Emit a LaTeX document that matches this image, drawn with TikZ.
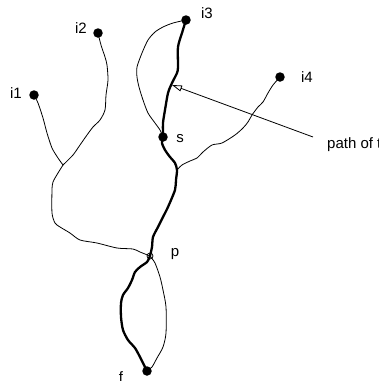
\documentclass[tikz,border=0pt]{standalone}
\usepackage{fontspec}
\setmainfont{Liberation Sans}
\usetikzlibrary{arrows.meta}
\begin{document}
\begin{tikzpicture}[x=1pt,y=-1pt,
  dot/.style={circle,fill=black,inner sep=0pt,minimum size=9.5pt},
  lbl/.style={inner sep=0pt,font=\fontsize{15}{17}\selectfont},
  thin path/.style={line width=0.8pt,line join=round,line cap=round},
  thick path/.style={line width=2.3pt,line join=round,line cap=round},
  tension=0.45]
\useasboundingbox (0,0) rectangle (379,381);
% nodes
\node[dot] (i1) at (34,95) {};
\node[dot] (i2) at (98,33) {};
\node[dot] (i3) at (186,20) {};
\node[dot] (i4) at (280,77) {};
\node[dot] (s) at (163,137) {};
\node[dot] (f) at (147,371) {};
\coordinate (p) at (150,256);
\coordinate (j1) at (63,165);
\coordinate (j2) at (177,170);
% labels
\node[lbl] (li1) at (16,93) {i1};
\node[lbl] (li2) at (81,28) {i2};
\node[lbl] (li3) at (207,13) {i3};
\node[lbl] (li4) at (307,77) {i4};
\node[lbl] (ls) at (180,139) {s};
\node[lbl] (lp) at (175,254) {p};
\node[lbl] (lf) at (121,377) {f};
\node[lbl,anchor=base west] (lt) at (327,148) {path of t};
% thin paths
\draw[thin path] plot[smooth] coordinates {(i1.center) (38,103) (43,118) (47,133) (52,148) (58,158) (j1)};
\draw[thin path] plot[smooth] coordinates {(i2.center) (101,45) (105,57) (107,65) (108,80) (106,95) (105,110) (100,120) (93,127) (87,135) (80,145) (73,155) (j1)};
\draw[thin path] plot[smooth] coordinates {(j1) (58,173) (53,182) (52,190) (52,213) (55,223) (60,227) (70,233) (80,240) (97,243) (117,248) (133,249) (140,252) (p)};
\draw[thin path] plot[smooth] coordinates {(i3.center) (173,23) (163,27) (155,32) (148,40) (142,53) (137,67) (137,77) (139,87) (143,100) (148,113) (155,123) (160,130) (s.center)};
\draw[thin path] plot[smooth] coordinates {(i4.center) (273,85) (268,93) (263,102) (258,107) (252,115) (248,122) (243,128) (235,135) (222,143) (212,145) (203,152) (197,158) (190,161) (182,165) (j2)};
\draw[thin path] plot[smooth] coordinates {(p) (155,263) (160,277) (163,290) (166,307) (166,333) (163,347) (157,358) (152,367) (f.center)};
% thick path
\draw[thick path] plot[smooth] coordinates {(i3.center) (182,33) (178,47) (178,67) (177,73) (172,83) (168,93) (165,110) (163,123) (s.center)};
\draw[thick path] plot[smooth] coordinates {(s.center) (162,143) (165,150) (170,157) (175,163) (j2) (176,180) (175,190) (168,207) (163,217) (158,227) (153,237) (152,247) (p)};
\draw[thick path] plot[smooth] coordinates {(p) (147,262) (140,267) (135,272) (132,280) (128,288) (123,295) (121,303) (121,317) (123,330) (128,340) (135,348) (140,357) (143,363) (f.center)};
% arrow
\coordinate (tipstart) at (313,137);
\coordinate (tipend) at (172,85);
\draw[line width=0.8pt,-{Triangle[open,length=10pt,width=6pt]}] (tipstart) -- (tipend);
% p marker
\draw[line width=0.8pt] (p) circle (3pt);
\end{tikzpicture}
\end{document}
